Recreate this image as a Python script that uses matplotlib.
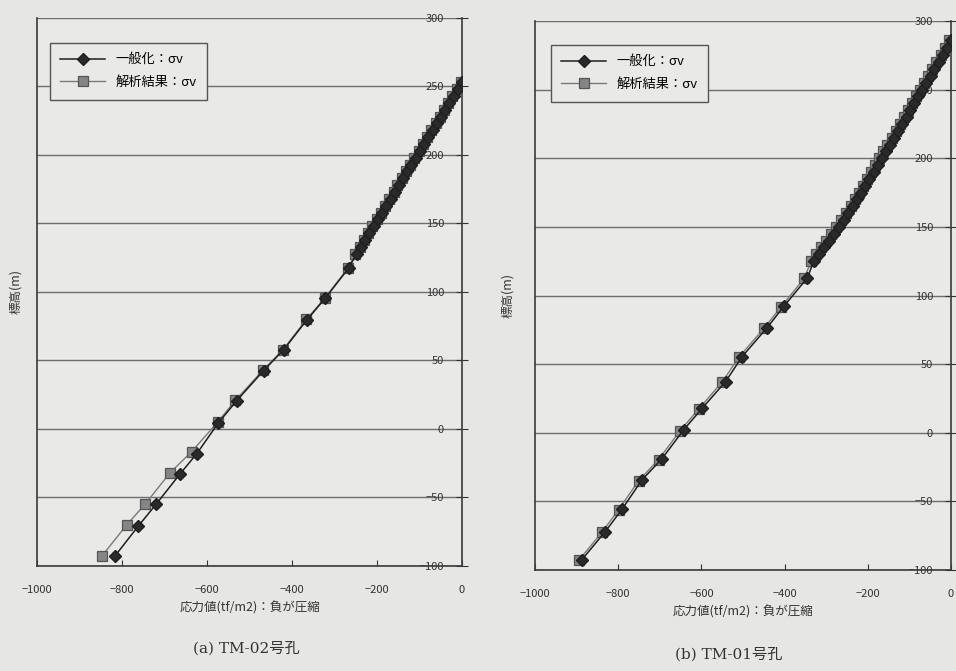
import matplotlib.pyplot as plt

plt.rcParams['font.family'] = ['Noto Sans CJK JP', 'DejaVu Sans']

# (a) TM-02 : elevation (m) and stress (tf/m2)
a_gen_y = [-92.5, -71, -55, -33, -18, 4.6, 20.7, 42.6, 57.7, 79.6, 95.4, 117.3,
           128, 133, 138, 143, 148, 153, 158, 163, 168, 173, 178, 183, 188,
           193, 198, 203, 208, 213, 218, 223, 228, 233, 238, 243, 248, 253]
a_gen_x = [-816, -762, -720, -664, -624, -573, -530, -467, -420, -365, -322, -267,
           -248, -238, -228, -218, -208, -198, -188, -178, -168, -158, -149, -139, -129,
           -119, -109, -99, -89, -79, -69, -59, -50, -40, -30, -20, -10, 0]
a_ana_y = [-93, -70, -55, -32, -16.5, 5, 21, 43, 58, 80, 95.5, 117.5,
           128, 133, 138, 143, 148, 153, 158, 163, 168, 173, 178, 183, 188,
           193, 198, 203, 208, 213, 218, 223, 228, 233, 238, 243, 248, 253]
a_ana_x = [-848, -789, -746, -687, -636, -575, -533, -468, -421, -366, -323, -268,
           -251, -241, -231, -221, -211, -201, -191, -181, -171, -161, -152, -142, -132,
           -122, -112, -102, -92, -82, -72, -62, -53, -43, -33, -23, -13, -3]

# (b) TM-01
b_gen_y = [-92.7, -72, -55.8, -34.4, -19, 2, 17.9, 37.2, 55.5, 76.6, 92, 113,
           125, 130, 135, 140, 145, 150, 155, 160, 165, 170, 175, 180, 185, 190,
           195, 200, 205, 210, 215, 220, 225, 230, 235, 240, 245, 250, 255, 260,
           265, 270, 275, 280, 286]
b_gen_x = [-888, -831, -791, -743, -695, -643, -598, -542, -502, -442, -402, -345,
           -330, -318, -306, -294, -282, -270, -258, -247, -235, -225, -216, -206, -196, -186,
           -176, -166, -157, -147, -137, -127, -117, -107, -98, -88, -79, -69, -59, -49,
           -40, -30, -19, -9, 0]
b_ana_y = [-93, -72.5, -56, -35, -19.5, 1.5, 17.5, 37, 55, 76, 91.5, 112.5,
           125, 130, 135, 140, 145, 150, 155, 160, 165, 170, 175, 180, 185, 190,
           195, 200, 205, 210, 215, 220, 225, 230, 235, 240, 245, 250, 255, 260,
           265, 270, 275, 280, 286]
b_ana_x = [-895, -839, -799, -751, -703, -651, -606, -550, -510, -450, -409, -353,
           -336, -324, -312, -300, -288, -276, -264, -253, -241, -231, -222, -212, -202, -192,
           -182, -172, -163, -153, -143, -133, -123, -113, -104, -94, -85, -75, -65, -55,
           -46, -36, -25, -15, -6]

xticks = [-1000, -800, -600, -400, -200, 0]
yticks = [-100, -50, 0, 50, 100, 150, 200, 250, 300]
gen_label = '一般化：σv'
ana_label = '解析結果：σv'

bg = '#e6e6e4'
fig = plt.figure(figsize=(9.56, 6.71), dpi=100, facecolor=bg)
ax1 = fig.add_axes([0.0387, 0.1565, 0.4446, 0.8167])
ax2 = fig.add_axes([0.5596, 0.1505, 0.4352, 0.8182])

panels = [
    (ax1, a_gen_x, a_gen_y, a_ana_x, a_ana_y, 0.03, 0.955, 11, '(a) TM-02号孔', 0.258, 0.028),
    (ax2, b_gen_x, b_gen_y, b_ana_x, b_ana_y, 0.038, 0.957, 15, '(b) TM-01号孔', 0.762, 0.018),
]

for ax, gx, gy, ax_x, ax_y, lx, ly, ylpad, cap, cx, cy in panels:
    ax.set_facecolor('#e9e9e7')
    ax.plot(ax_x, ax_y, color='#7a7a7a', lw=1.0, marker='s', ms=7,
            mfc='#858585', mec='#555555', mew=0.9, label=ana_label, zorder=3)
    ax.plot(gx, gy, color='#1e1e1e', lw=1.1, marker='D', ms=6.5,
            mfc='#2a2a2a', mec='#1e1e1e', label=gen_label, zorder=4)

    ax.set_xlim(-1000, 0)
    ax.set_ylim(-100, 300)
    ax.set_xticks(xticks)
    ax.set_yticks(yticks)
    ax.yaxis.grid(True, color='#6e6e6e', lw=1.0)
    ax.set_axisbelow(True)

    for s in ['left', 'right', 'bottom']:
        ax.spines[s].set_color('#3a3a3a')
        ax.spines[s].set_linewidth(1.2)
    ax.spines['top'].set_visible(False)

    ax.tick_params(axis='x', direction='in', length=4, pad=14,
                   labelsize=8, colors='#333333')
    ax.tick_params(axis='y', left=False, right=True, labelleft=False,
                   labelright=True, direction='inout', length=8, pad=-17,
                   labelsize=8, colors='#333333')
    for t in ax.get_yticklabels():
        t.set_horizontalalignment('right')

    ax.set_xlabel('応力値(tf/m2)：負が圧縮', fontsize=9, color='#333333', labelpad=4)
    ax.set_ylabel('標高(m)', fontsize=9, color='#333333', labelpad=ylpad)

    h, l = ax.get_legend_handles_labels()
    leg = ax.legend(h[::-1], l[::-1], loc='upper left', bbox_to_anchor=(lx, ly),
                    fontsize=9.5, frameon=True, fancybox=False, handlelength=3.4,
                    borderpad=0.8, labelspacing=0.75, framealpha=1, borderaxespad=0)
    leg.get_frame().set_facecolor('#e9e9e7')
    leg.get_frame().set_edgecolor('#555555')
    leg.get_frame().set_linewidth(1.0)

    fig.text(cx, cy, cap, fontsize=11, color='#333333', ha='center',
             family=['DejaVu Serif', 'Noto Sans CJK JP'])

fig.savefig('out.png', dpi=100, facecolor=bg)
